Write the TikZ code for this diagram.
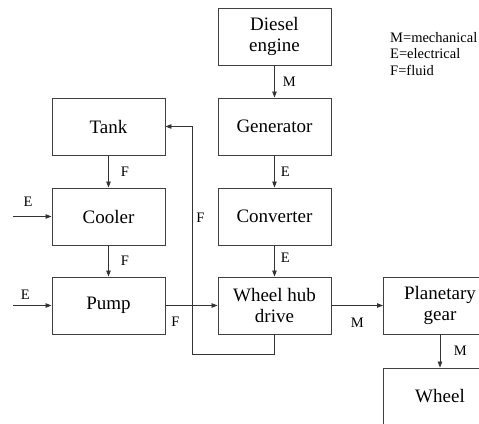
\documentclass[tikz,border=0pt]{standalone}
\usepackage{fontspec}
\setmainfont{Liberation Serif}
\usetikzlibrary{arrows.meta}
\tikzset{
  block/.style={
    draw = black!75,
    line width = 0.9pt,
    minimum width = 113pt,
    minimum height = 57pt,
    align = center,
    inner sep = 0pt,
    font = \fontsize{19}{21.5}\selectfont
  },
  flow/.style={
    draw = black!80,
    line width = 0.8pt,
    -{Triangle[length=6pt,width=4.5pt]}
  },
  lbl/.style={
    font = \fontsize{14.5}{16.5}\selectfont,
    inner sep = 2pt
  }
}

\begin{document}
\begin{tikzpicture}[x=1pt,y=-1pt]
  \clip (0,0) rectangle (479,423);

  % power chain
  \node[block] (diesel) at (274.5,36.5) {Diesel\\engine};
  \node[block] (generator) at (274.5,126.5) {Generator};
  \node[block] (converter) at (274.5,216.5) {Converter};
  \node[block] (hub) at (274.5,305.5) {Wheel hub\\drive};
  \node[block] (planetary) at (440,305.5) {Planetary\\gear};
  \node[block] (wheel) at (440,396.5) {Wheel};

  % cooling loop
  \node[block] (tank) at (108.5,126.5) {Tank};
  \node[block] (cooler) at (108.5,216.5) {Cooler};
  \node[block] (pump) at (108.5,305.5) {Pump};

  \coordinate (coolerin) at (13,216.5);
  \coordinate (pumpin) at (13,305.5);
  \coordinate (ret) at (192,354);

  \draw[flow] (diesel) -- node[lbl, anchor=west, xshift=6pt] {M} (generator);
  \draw[flow] (generator) -- node[lbl, anchor=west, xshift=4pt] {E} (converter);
  \draw[flow] (converter) -- node[lbl, anchor=west, xshift=4pt, pos=0.4] {E} (hub);
  \draw[flow] (hub) -- node[lbl, below=10.5pt] {M} (planetary);
  \draw[flow] (planetary) -- node[lbl, anchor=west, xshift=11.5pt] {M} (wheel);

  \draw[flow] (tank) -- node[lbl, anchor=west, xshift=10pt] {F} (cooler);
  \draw[flow] (cooler) -- node[lbl, anchor=west, xshift=10pt] {F} (pump);
  \draw[flow] (coolerin) -- node[lbl, above=8pt, pos=0.39] {E} (cooler);
  \draw[flow] (pumpin) -- node[lbl, above=4pt, pos=0.32] {E} (pump);
  \draw[flow] (pump) -- node[lbl, below=9.5pt, pos=0.19] {F} (hub);
  \draw[flow] (hub.south) |- (ret)
    -- node[lbl, anchor=west, xshift=2pt, pos=0.6] {F} (ret |- tank.east)
    -- (tank.east);

  % legend
  \node[lbl, anchor=north west, align=left] (legend) at (388,30)
    {M=mechanical\\E=electrical\\F=fluid};
\end{tikzpicture}
\end{document}
